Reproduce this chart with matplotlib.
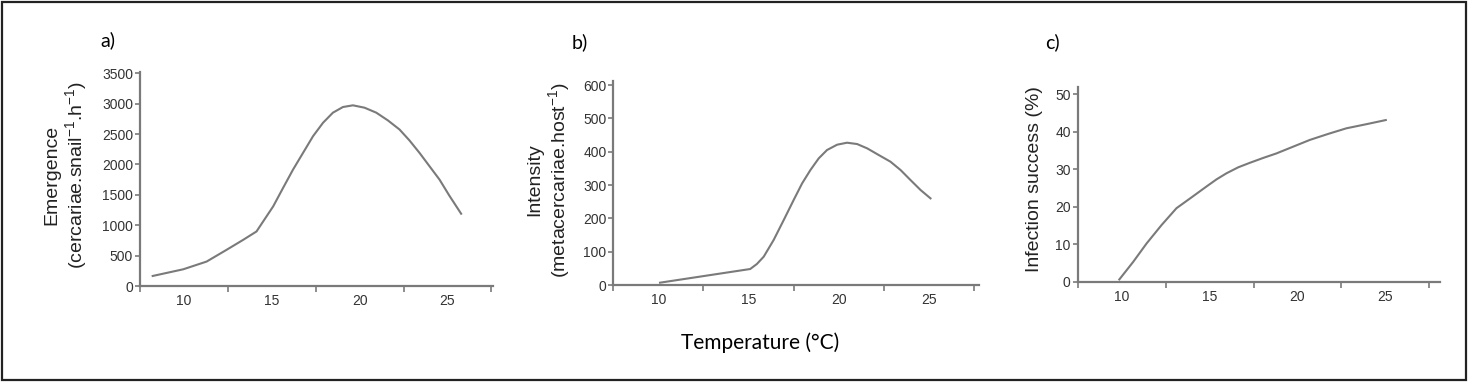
import matplotlib
matplotlib.use('Agg')
import matplotlib.pyplot as plt
from matplotlib.patches import Rectangle

plt.rcParams['font.family'] = ['Liberation Sans', 'DejaVu Sans']
plt.rcParams['mathtext.default'] = 'regular'

# ---- data ----
temp_a = [8.22, 9.96, 11.29, 12.42, 13.37, 14.13, 14.7, 15.08, 15.64, 16.21, 16.78, 17.35, 17.92,
          18.48, 19.05, 19.62, 20.28, 20.95, 21.61, 22.27, 22.84, 23.41, 23.98, 24.55, 25.11, 25.78]
emergence = [165, 275, 402, 594, 759, 897, 1145, 1310, 1612, 1915, 2190, 2465, 2686,
             2851, 2944, 2972, 2933, 2851, 2724, 2575, 2394, 2190, 1970, 1750, 1486, 1189]

temp_b = [10.09, 15.09, 15.46, 15.84, 16.39, 16.95, 17.5, 17.97, 18.43, 18.89, 19.35, 19.91, 20.46,
          21.02, 21.58, 22.22, 22.87, 23.43, 23.98, 24.54, 25.09]
intensity = [7, 48, 63, 85, 135, 195, 255, 305, 345, 380, 405, 421, 427,
             423, 410, 390, 370, 345, 315, 285, 260]

temp_c = [9.87, 10.66, 11.42, 12.27, 13.12, 13.98, 14.83, 15.4, 15.96, 16.63, 17.29, 18.05, 18.8,
          19.75, 20.7, 21.74, 22.78, 23.92, 25.02]
success = [0.6, 5.3, 10.2, 15.1, 19.6, 22.5, 25.4, 27.3, 28.9, 30.5, 31.7, 33.0, 34.2,
           36.0, 37.8, 39.4, 40.9, 42.0, 43.1]

tick_labels = ['10', '15', '20', '25']
label_pos = [10, 15, 20, 25]
bound_ticks = [7.5, 12.5, 17.5, 22.5, 27.5]

grey = '#7a7a7a'
txt = '#333333'

fig = plt.figure(figsize=(14.68, 3.82), dpi=100)
fig.patches.append(Rectangle((0.0015, 0.004), 0.997, 0.99, transform=fig.transFigure,
                             fill=False, edgecolor='#222222', linewidth=1.6))

def style(ax, xmax, ylim, yticks):
    ax.set_xlim(7.5, xmax)
    ax.set_ylim(*ylim)
    for s in ['top', 'right']:
        ax.spines[s].set_visible(False)
    for s in ['left', 'bottom']:
        ax.spines[s].set_color(grey)
        ax.spines[s].set_linewidth(1.6)
    ax.set_xticks(bound_ticks)
    ax.set_xticklabels([])
    ax.set_xticks(label_pos, minor=True)
    ax.set_xticklabels(tick_labels, minor=True)
    ax.tick_params(axis='x', which='major', length=4, width=1.2, color=grey, direction='out')
    ax.tick_params(axis='x', which='minor', length=0, pad=6, labelsize=10, labelcolor=txt)
    ax.set_yticks(yticks)
    ax.tick_params(axis='y', length=3.5, width=1.2, color=grey, pad=1.5, labelsize=10, labelcolor=txt)

# a)
ax1 = fig.add_axes([0.0954, 0.2513, 0.2405, 0.561])
ax1.plot(temp_a, emergence, color=grey, linewidth=1.5, solid_joinstyle='round')
style(ax1, 27.6, (0, 3525), range(0, 3501, 500))
ax1.set_ylabel('Emergence\n(cercariae.snail$^{-1}$.h$^{-1}$)', fontsize=14, color='#222222',
               linespacing=1.15)
ax1.yaxis.set_label_coords(-0.145, 0.518)

# b)
ax2 = fig.add_axes([0.4178, 0.2539, 0.2491, 0.5348])
ax2.plot(temp_b, intensity, color=grey, linewidth=1.5, solid_joinstyle='round')
style(ax2, 27.78, (0, 613), range(0, 601, 100))
ax2.set_ylabel('Intensity\n(metacercariae.host$^{-1}$)', fontsize=14, color='#222222',
               linespacing=1.15)
ax2.yaxis.set_label_coords(-0.112, 0.514)

# c)
ax3 = fig.add_axes([0.7341, 0.2626, 0.2468, 0.5105])
ax3.plot(temp_c, success, color=grey, linewidth=1.5, solid_joinstyle='round')
style(ax3, 28.1, (0, 52), range(0, 51, 10))
ax3.set_ylabel('Infection success (%)', fontsize=14, color='#222222')
ax3.yaxis.set_label_coords(-0.095, 0.527)

# panel letters and common x label
fig.text(100 / 1468, 1 - 40 / 382, 'a)', fontsize=14, family=['Lato', 'DejaVu Sans'], va='center')
fig.text(572 / 1468, 1 - 42 / 382, 'b)', fontsize=14, family=['Lato', 'DejaVu Sans'], va='center')
fig.text(1045 / 1468, 1 - 42 / 382, 'c)', fontsize=14, family=['Lato', 'DejaVu Sans'], va='center')
fig.text(760 / 1468, 1 - 343 / 382, 'Temperature (°C)', fontsize=15, family=['Lato', 'DejaVu Sans'],
         ha='center', va='center')

fig.savefig('out.png', dpi=100)
